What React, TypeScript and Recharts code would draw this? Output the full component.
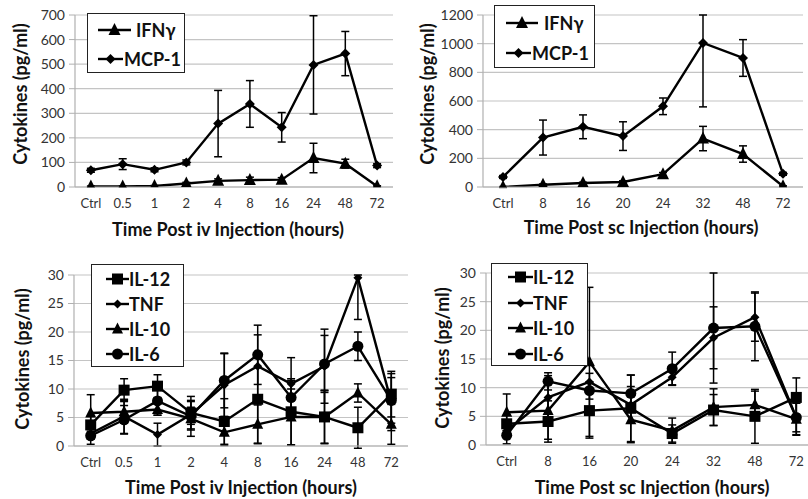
import React from "react";
import { LineChart, Line, XAxis, YAxis, CartesianGrid, ErrorBar } from "recharts";

const FONT = "Lato, 'Open Sans', Arial, sans-serif";

// top left - iv injection
const ivTimes = ["Ctrl", "0.5", "1", "2", "4", "8", "16", "24", "48", "72"];
const ivIfng = [2, 2, 4, 14, 25, 28, 30, 118, 95, 3];
const ivIfngErr = [2, 2, 2, 5, 8, 12, 8, 60, 18, 2];
const ivMcp1 = [68, 93, 70, 100, 258, 338, 243, 497, 543, 87];
const ivMcp1Err = [8, 22, 8, 10, 135, 95, 60, 200, 90, 8];

// top right - sc injection
const scTimes = ["Ctrl", "8", "16", "20", "24", "32", "48", "72"];
const scIfng = [0, 16, 28, 35, 89, 338, 230, 5];
const scIfngErr = [3, 5, 5, 8, 12, 85, 57, 3];
const scMcp1 = [70, 345, 420, 355, 563, 1005, 900, 92];
const scMcp1Err = [10, 122, 83, 100, 58, [446, 195], 128, 10];

// bottom left - iv, low level cytokines
const ivIl12 = [3.7, 9.8, 10.5, 5.8, 4.3, 8.2, 6.0, 5.1, 3.2, 9.1];
const ivIl12Err = [1.5, 2, 2, 2, 4, 7.7, 5.8, 4.7, 3.6, 4];
const ivTnf = [2.2, 5.2, 2.0, 5.5, 10.7, 14.0, 10.9, 14.0, 29.5, 7.7];
const ivTnfErr = [1, 3, 2, 2.5, 5.5, 5.5, 4.6, 6.5, [7.3, 0.5], 5];
const ivIl10 = [5.8, 6.0, 6.4, 4.8, 2.4, 3.8, 5.1, 5.1, 9.3, 3.8];
const ivIl10Err = [3.2, 2, 1, 2, 2.3, 3.4, 4.9, 4.6, 1.6, 3.5];
const ivIl6 = [1.8, 4.6, 7.9, 5.2, 11.5, 16.0, 8.5, 14.4, 17.5, 8.0];
const ivIl6Err = [1.5, 2.5, 2.5, 3.5, 4.8, 5.2, 3, 5, 2.5, 4];

// bottom right - sc, low level cytokines
const scIl12 = [3.7, 4.1, 6.0, 6.4, 2.0, 6.1, 5.0, 8.3];
const scIl12Err = [1.5, 3.6, 4.8, 5.8, 1.5, 2.7, 4.7, 3.4];
const scTnf = [2.5, 8.3, 11.0, 7.0, 11.8, 18.7, 22.3, 4.8];
const scTnfErr = [1, 3.8, 1.5, 3.2, 1.3, 5.4, 4.2, 2.5];
const scIl10 = [5.7, 6.0, 14.5, 4.4, 2.5, 6.6, 7.0, 4.5];
const scIl10Err = [3.2, 5, 13, 4, 2.2, 3.2, 2.4, 2.8];
const scIl6 = [1.7, 11.1, 9.5, 9.0, 13.3, 20.4, 20.7, 4.8];
const scIl6Err = [1.5, 1.5, 1.5, 3.2, 2.9, 9.6, 6, 3];

const topTicksIv = [0, 100, 200, 300, 400, 500, 600, 700];
const topTicksSc = [0, 200, 400, 600, 800, 1000, 1200];
const bottomTicks = [0, 5, 10, 15, 20, 25, 30];

type Shape = "triangle" | "diamond" | "square" | "circle";

function Marker({ cx, cy, shape, size }: { cx: number; cy: number; shape: Shape; size: number }) {
  if (cx == null || cy == null) return null;
  const h = size / 2;
  if (shape === "triangle") {
    return <polygon points={`${cx},${cy - h - 1} ${cx - h},${cy + h - 1} ${cx + h},${cy + h - 1}`} fill="#000" />;
  }
  if (shape === "diamond") {
    return <polygon points={`${cx},${cy - h} ${cx + h},${cy} ${cx},${cy + h} ${cx - h},${cy}`} fill="#000" />;
  }
  if (shape === "square") {
    return <rect x={cx - h} y={cy - h} width={size} height={size} fill="#000" />;
  }
  return <circle cx={cx} cy={cy} r={h} fill="#000" />;
}

interface Series {
  key: string;
  name: string;
  shape: Shape;
  size: number;
  values: number[];
  errs: (number | number[])[];
}

function Panel({
  times,
  series,
  domain,
  ticks,
  left,
  top,
  width,
  height,
  yWidth,
  margin,
}: {
  times: string[];
  series: Series[];
  domain: [number, number];
  ticks: number[];
  left: number;
  top: number;
  width: number;
  height: number;
  yWidth: number;
  margin: { top: number; right: number; bottom: number };
}) {
  const rows = times.map((t, i) => {
    const row: Record<string, unknown> = { t };
    series.forEach((s) => {
      row[s.key] = s.values[i];
      row[s.key + "Err"] = s.errs[i];
    });
    return row;
  });
  return (
    <div style={{ position: "absolute", left, top }}>
      <LineChart width={width} height={height} data={rows} margin={{ top: margin.top, right: margin.right, bottom: 0, left: 0 }}>
        <CartesianGrid vertical={false} stroke="#c4c4c4" strokeWidth={1.2} />
        <XAxis
          dataKey="t"
          scale="band"
          height={margin.bottom}
          tickLine={false}
          tickSize={0}
          tickMargin={12}
          axisLine={{ stroke: "#b0b0b0", strokeWidth: 1.2 }}
          tick={{ fontSize: 13, fill: "#333", fontFamily: FONT }}
          interval={0}
        />
        <YAxis
          width={yWidth}
          domain={domain}
          allowDataOverflow
          ticks={ticks}
          interval={0}
          tickSize={6}
          tickMargin={4}
          tickLine={{ stroke: "#b0b0b0" }}
          axisLine={{ stroke: "#b0b0b0", strokeWidth: 1.2 }}
          tick={{ fontSize: 14, fill: "#333", fontFamily: FONT }}
        />
        {series.map((s) => (
          <Line
            key={s.key}
            dataKey={s.key}
            name={s.name}
            stroke="#000"
            strokeWidth={2.4}
            isAnimationActive={false}
            dot={(p: { cx: number; cy: number; index: number }) => (
              <Marker key={`${s.key}-${p.index}`} cx={p.cx} cy={p.cy} shape={s.shape} size={s.size} />
            )}
          >
            <ErrorBar dataKey={s.key + "Err"} width={4} strokeWidth={1.5} stroke="#000" direction="y" />
          </Line>
        ))}
      </LineChart>
    </div>
  );
}

function LegendBox({
  left,
  top,
  width,
  height,
  items,
}: {
  left: number;
  top: number;
  width: number;
  height: number;
  items: { series: Series; y: number; x0: number; x1: number; tx: number; fontSize: number }[];
}) {
  return (
    <div
      style={{
        position: "absolute",
        left,
        top,
        width,
        height,
        border: "1.5px solid #222",
        background: "#fff",
        boxSizing: "border-box",
      }}
    >
      {items.map((it) => (
        <React.Fragment key={it.series.key}>
          <svg
            width={it.x1 - it.x0}
            height={16}
            style={{ position: "absolute", left: it.x0 - left, top: it.y - top - 8 }}
          >
            <line x1={0} y1={8} x2={it.x1 - it.x0} y2={8} stroke="#000" strokeWidth={2.4} />
            <Marker cx={(it.x1 - it.x0) / 2} cy={8} shape={it.series.shape} size={it.series.size} />
          </svg>
          <div
            style={{
              position: "absolute",
              left: it.tx - left,
              top: it.y - top - 12,
              lineHeight: "24px",
              fontSize: it.fontSize,
              fontWeight: 700,
              fontFamily: FONT,
              color: "#111",
              whiteSpace: "nowrap",
            }}
          >
            {it.series.name}
          </div>
        </React.Fragment>
      ))}
    </div>
  );
}

function Title({ x, y, text, rotate }: { x: number; y: number; text: string; rotate?: boolean }) {
  return (
    <div
      style={{
        position: "absolute",
        left: x,
        top: y,
        transform: `translate(-50%, -50%)${rotate ? " rotate(-90deg)" : ""}`,
        fontFamily: FONT,
        fontWeight: 700,
        fontSize: 18,
        color: "#111",
        whiteSpace: "nowrap",
      }}
    >
      {text}
    </div>
  );
}

export default function App() {
  const ivTop: Series[] = [
    { key: "ifng", name: "IFNγ", shape: "triangle", size: 12, values: ivIfng, errs: ivIfngErr },
    { key: "mcp1", name: "MCP-1", shape: "diamond", size: 10, values: ivMcp1, errs: ivMcp1Err },
  ];
  const scTop: Series[] = [
    { key: "ifng", name: "IFNγ", shape: "triangle", size: 12, values: scIfng, errs: scIfngErr },
    { key: "mcp1", name: "MCP-1", shape: "diamond", size: 10, values: scMcp1, errs: scMcp1Err },
  ];
  const ivBottom: Series[] = [
    { key: "il12", name: "IL-12", shape: "square", size: 11, values: ivIl12, errs: ivIl12Err },
    { key: "tnf", name: "TNF", shape: "diamond", size: 9, values: ivTnf, errs: ivTnfErr },
    { key: "il10", name: "IL-10", shape: "triangle", size: 11, values: ivIl10, errs: ivIl10Err },
    { key: "il6", name: "IL-6", shape: "circle", size: 11, values: ivIl6, errs: ivIl6Err },
  ];
  const scBottom: Series[] = [
    { key: "il12", name: "IL-12", shape: "square", size: 11, values: scIl12, errs: scIl12Err },
    { key: "tnf", name: "TNF", shape: "diamond", size: 9, values: scTnf, errs: scTnfErr },
    { key: "il10", name: "IL-10", shape: "triangle", size: 11, values: scIl10, errs: scIl10Err },
    { key: "il6", name: "IL-6", shape: "circle", size: 11, values: scIl6, errs: scIl6Err },
  ];

  return (
    <div
      style={{
        position: "absolute",
        left: 0,
        top: 0,
        width: 808,
        height: 499,
        overflow: "hidden",
        background: "#fff",
      }}
    >
      <Panel times={ivTimes} series={ivTop} domain={[0, 700]} ticks={topTicksIv} left={0} top={0} width={400} height={250} yWidth={75} margin={{ top: 15, right: 7, bottom: 63 }} />
      <Panel times={scTimes} series={scTop} domain={[0, 1200]} ticks={topTicksSc} left={400} top={0} width={408} height={250} yWidth={83} margin={{ top: 15, right: 5, bottom: 63 }} />
      <Panel times={ivTimes} series={ivBottom} domain={[0, 30]} ticks={bottomTicks} left={0} top={250} width={410} height={250} yWidth={74} margin={{ top: 25, right: 2, bottom: 54 }} />
      <Panel times={scTimes} series={scBottom} domain={[0, 30]} ticks={bottomTicks} left={400} top={250} width={420} height={250} yWidth={86} margin={{ top: 23, right: 3, bottom: 55 }} />

      <Title x={20} y={94} text="Cytokines (pg/ml)" rotate />
      <Title x={427} y={94} text="Cytokines (pg/ml)" rotate />
      <Title x={22} y={359} text="Cytokines (pg/ml)" rotate />
      <Title x={442} y={358} text="Cytokines (pg/ml)" rotate />

      <Title x={228} y={229} text="Time Post iv Injection (hours)" />
      <Title x={641} y={227} text="Time Post sc Injection (hours)" />
      <Title x={241} y={487} text="Time Post iv Injection (hours)" />
      <Title x={652} y={487} text="Time Post sc Injection (hours)" />

      <LegendBox
        left={87}
        top={13}
        width={98}
        height={60}
        items={[
          { series: ivTop[0], y: 29, x0: 97, x1: 130, tx: 135, fontSize: 18 },
          { series: ivTop[1], y: 58, x0: 97, x1: 122, tx: 123, fontSize: 18 },
        ]}
      />
      <LegendBox
        left={494}
        top={5}
        width={101}
        height={63}
        items={[
          { series: scTop[0], y: 22, x0: 505, x1: 537, tx: 543, fontSize: 18 },
          { series: scTop[1], y: 52, x0: 505, x1: 530, tx: 531, fontSize: 18 },
        ]}
      />
      <LegendBox
        left={91}
        top={264}
        width={93}
        height={103}
        items={ivBottom.map((s, i) => ({ series: s, y: 278 + i * 25, x0: 105, x1: 128, tx: 128, fontSize: 18 }))}
      />
      <LegendBox
        left={491}
        top={263}
        width={97}
        height={103}
        items={scBottom.map((s, i) => ({ series: s, y: 276 + i * 25.7, x0: 507, x1: 532, tx: 532, fontSize: 18 }))}
      />
    </div>
  );
}
